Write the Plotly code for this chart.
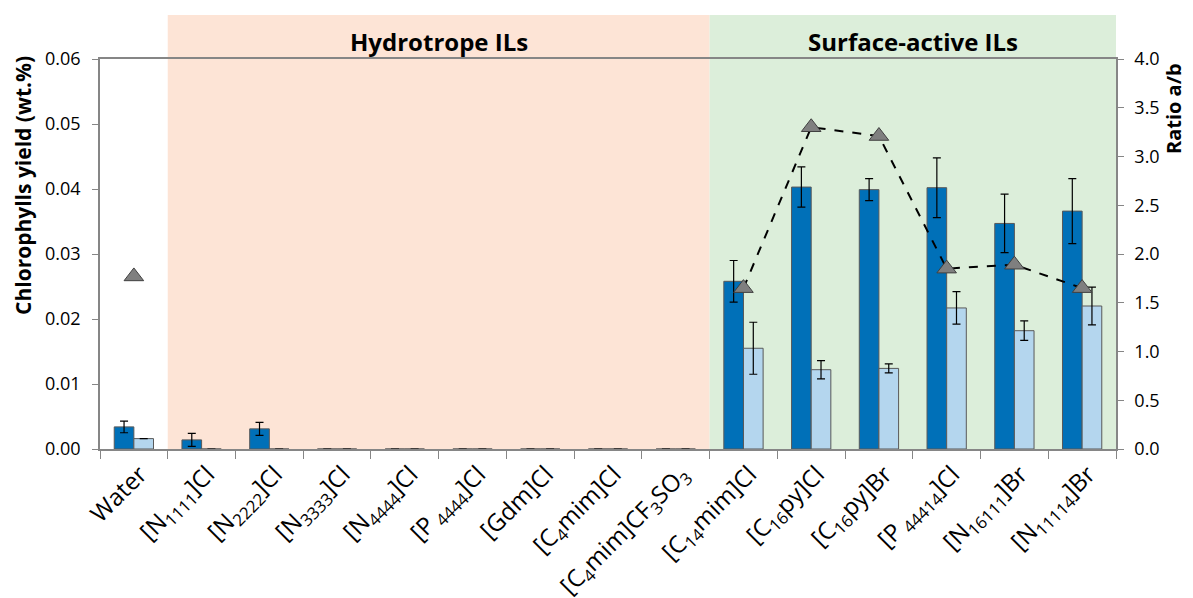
import plotly.graph_objects as go

categories = ["Water", "[N<sub>1111</sub>]Cl", "[N<sub>2222</sub>]Cl", "[N<sub>3333</sub>]Cl",
              "[N<sub>4444</sub>]Cl", "[P<sub> 4444</sub>]Cl", "[Gdm]Cl", "[C<sub>4</sub>mim]Cl",
              "[C<sub>4</sub>mim]CF<sub>3</sub>SO<sub>3</sub>", "[C<sub>14</sub>mim]Cl",
              "[C<sub>16</sub>py]Cl", "[C<sub>16</sub>py]Br", "[P<sub> 44414</sub>]Cl",
              "[N<sub>16111</sub>]Br", "[N<sub>11114</sub>]Br"]

chl_a = [0.0034, 0.0014, 0.0031, 0, 0, 0, 0, 0, 0, 0.0258, 0.0403, 0.0399, 0.0402, 0.0347, 0.0366]
chl_a_err = [0.0009, 0.0010, 0.0010, 0, 0, 0, 0, 0, 0, 0.0032, 0.0031, 0.0017, 0.0046, 0.0045, 0.0050]
chl_b = [0.0016, 0, 0, 0, 0, 0, 0, 0, 0, 0.0155, 0.0122, 0.0124, 0.0217, 0.0182, 0.0220]
chl_b_err = [0.0, 0, 0, 0, 0, 0, 0, 0, 0, 0.0040, 0.0014, 0.0007, 0.0025, 0.0015, 0.0029]
ratio_ab = [1.77, None, None, None, None, None, None, None, None, 1.65, 3.30, 3.21, 1.85, 1.89, 1.65]

FONT = "Open Sans"
n = len(categories)

fig = go.Figure()

fig.add_trace(go.Bar(
    x=categories, y=chl_a, name="Chl a",
    marker=dict(color="#0070B8", line=dict(color="#595959", width=1)),
    error_y=dict(type="data", array=chl_a_err, color="black", thickness=1.2, width=4),
))
fig.add_trace(go.Bar(
    x=categories, y=chl_b, name="Chl b",
    marker=dict(color="#B4D6EE", line=dict(color="#595959", width=1)),
    error_y=dict(type="data", array=chl_b_err, color="black", thickness=1.2, width=4),
))
fig.add_trace(go.Scatter(
    x=categories, y=ratio_ab, yaxis="y2", mode="lines+markers", connectgaps=False,
    line=dict(color="black", width=2, dash="dash"),
    marker=dict(symbol="triangle-up", size=17, color="#7F7F7F", line=dict(color="#404040", width=1)),
))

shapes = [
    dict(type="rect", xref="paper", yref="paper", x0=1 / n, x1=9 / n, y0=0, y1=1.113,
         fillcolor="#FDE4D6", line=dict(width=0), layer="below"),
    dict(type="rect", xref="paper", yref="paper", x0=9 / n, x1=1, y0=0, y1=1.113,
         fillcolor="#DCEEDA", line=dict(width=0), layer="below"),
]

annotations = [
    dict(text="<b>Hydrotrope ILs</b>", xref="paper", yref="paper", x=5 / n, y=1.044,
         xanchor="center", yanchor="middle", showarrow=False,
         font=dict(family=FONT, size=24, color="black")),
    dict(text="<b>Surface-active ILs</b>", xref="paper", yref="paper", x=12 / n, y=1.044,
         xanchor="center", yanchor="middle", showarrow=False,
         font=dict(family=FONT, size=24, color="black")),
    dict(text="<b>Chlorophylls yield (wt.%)</b>", xref="paper", yref="paper", x=-0.0758, y=0.677,
         xanchor="center", yanchor="middle", textangle=-90, showarrow=False,
         font=dict(family=FONT, size=21, color="black")),
    dict(text="<b>Ratio a/b</b>", xref="paper", yref="paper", x=1.056, y=0.874,
         xanchor="center", yanchor="middle", textangle=-90, showarrow=False,
         font=dict(family=FONT, size=20, color="black")),
]

fig.update_layout(
    width=1185, height=590,
    margin=dict(l=92, r=77, t=51, b=149),
    paper_bgcolor="white", plot_bgcolor="white",
    barmode="group", bargap=0.42, bargroupgap=0,
    showlegend=False,
    font=dict(family=FONT, color="black"),
    shapes=shapes, annotations=annotations,
    xaxis=dict(
        type="category", range=[-0.5, n - 0.5], tickangle=-45, tickson="boundaries",
        ticks="outside", ticklen=8,
        tickcolor="#868686", showline=True, linecolor="#868686", linewidth=1.5, mirror=True,
        tickfont=dict(family=FONT, size=24), showgrid=False, ticklabelshift=6,
        automargin=False,
    ),
    yaxis=dict(
        range=[0, 0.06], tickvals=[0, 0.01, 0.02, 0.03, 0.04, 0.05, 0.06], tickformat=".2f",
        ticks="outside", ticklen=6, tickcolor="#868686", showline=True, linecolor="#868686",
        linewidth=1.5, showgrid=False, zeroline=False, tickfont=dict(family=FONT, size=18),
        ticklabelstandoff=8, automargin=False,
    ),
    yaxis2=dict(
        overlaying="y", side="right", range=[0, 4], tickvals=[0, 0.5, 1, 1.5, 2, 2.5, 3, 3.5, 4],
        tickformat=".1f", ticks="outside", ticklen=6, tickcolor="#868686", showline=True,
        linecolor="#868686", linewidth=1.5, showgrid=False, zeroline=False,
        tickfont=dict(family=FONT, size=18), ticklabelstandoff=7, automargin=False,
    ),
)

fig.write_html("out.html")
